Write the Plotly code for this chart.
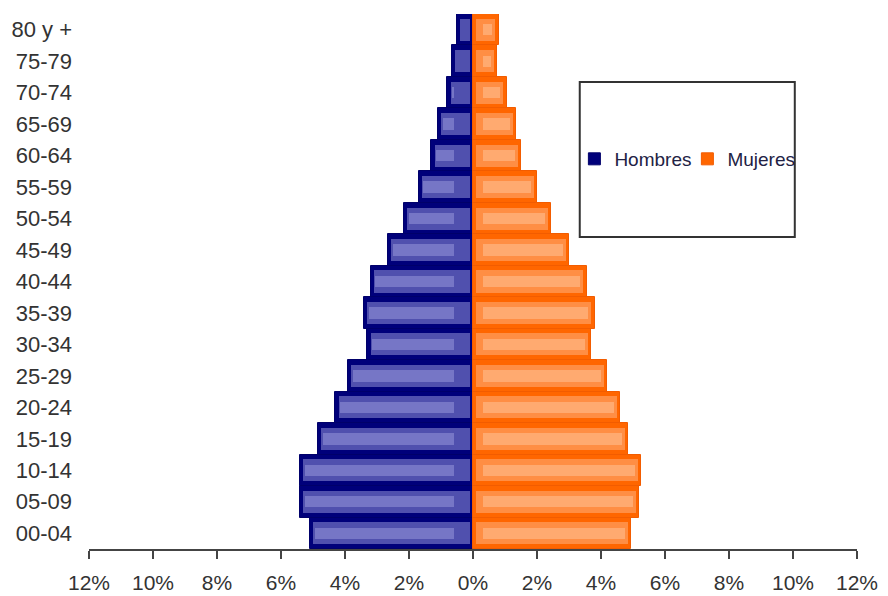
import plotly.graph_objects as go

age_groups = ["00-04", "05-09", "10-14", "15-19", "20-24", "25-29", "30-34", "35-39",
              "40-44", "45-49", "50-54", "55-59", "60-64", "65-69", "70-74", "75-79", "80 y +"]
hombres = [5.1, 5.4, 5.4, 4.85, 4.3, 3.9, 3.3, 3.4, 3.2, 2.65, 2.15, 1.7, 1.3, 1.1, 0.8, 0.65, 0.5]
mujeres = [4.95, 5.2, 5.25, 4.85, 4.6, 4.2, 3.7, 3.8, 3.55, 3.0, 2.45, 2.0, 1.5, 1.35, 1.05, 0.75, 0.8]
tick_values = [-12, -10, -8, -6, -4, -2, 0, 2, 4, 6, 8, 10, 12]
tick_labels = ["12%", "10%", "8%", "6%", "4%", "2%", "0%", "2%", "4%", "6%", "8%", "10%", "12%"]

FONT = "Liberation Sans, Arial, sans-serif"
men_x = [-v for v in hombres]


def shade(values, start, end_inset, sign):
    """Inner shading bar from `start` out to (value - end_inset), as base + length."""
    bases = [sign * start] * len(values)
    lengths = [sign * max(v - end_inset - start, 0) for v in values]
    return bases, lengths


fig = go.Figure()

# base (outline) bars
fig.add_trace(go.Bar(y=age_groups, x=men_x, orientation="h", name="Hombres", width=1.0,
                     marker=dict(color="#00007a", line=dict(color="#00006a", width=1))))
fig.add_trace(go.Bar(y=age_groups, x=mujeres, orientation="h", name="Mujeres", width=1.0,
                     marker=dict(color="#ff6600", line=dict(color="#f25c00", width=1))))

# shading layers (gradient imitation)
b, l = shade(hombres, 0.1, 0.1, -1)
fig.add_trace(go.Bar(y=age_groups, x=l, base=b, orientation="h", width=0.7, showlegend=False,
                     hoverinfo="skip", marker=dict(color="#5050ae", line=dict(width=0))))
b, l = shade(hombres, 0.6, 0.15, -1)
fig.add_trace(go.Bar(y=age_groups, x=l, base=b, orientation="h", width=0.36, showlegend=False,
                     hoverinfo="skip", marker=dict(color="#7676c6", line=dict(width=0))))
b, l = shade(mujeres, 0.08, 0.1, 1)
fig.add_trace(go.Bar(y=age_groups, x=l, base=b, orientation="h", width=0.7, showlegend=False,
                     hoverinfo="skip", marker=dict(color="#ff8e44", line=dict(width=0))))
b, l = shade(mujeres, 0.3, 0.2, 1)
fig.add_trace(go.Bar(y=age_groups, x=l, base=b, orientation="h", width=0.36, showlegend=False,
                     hoverinfo="skip", marker=dict(color="#ffaa70", line=dict(width=0))))

fig.update_layout(
    width=888, height=596,
    margin=dict(l=89, r=31, t=14, b=47),
    paper_bgcolor="white", plot_bgcolor="white",
    barmode="overlay", bargap=0,
    font=dict(family=FONT, color="#333333"),
    xaxis=dict(range=[-12, 12], tickvals=tick_values, ticktext=tick_labels,
               tickfont=dict(size=21, color="#333333", family=FONT), ticklabelstandoff=6,
               showgrid=False, zeroline=False, showline=True, linecolor="#444444", linewidth=2,
               ticks="outside", ticklen=8, tickwidth=2, tickcolor="#444444", fixedrange=True,
               automargin=False),
    yaxis=dict(type="category", categoryorder="array", categoryarray=age_groups,
               range=[-0.5, 16.5], showgrid=False, zeroline=False, showline=False, ticks="",
               tickfont=dict(size=22, color="#333333", family=FONT), ticklabelstandoff=16,
               fixedrange=True, automargin=False),
    legend=dict(orientation="h", x=0.632, y=0.729, xanchor="left", yanchor="middle",
                font=dict(size=19, color="#222244", family=FONT), bgcolor="rgba(0,0,0,0)",
                itemwidth=30, entrywidth=68, entrywidthmode="pixels", traceorder="normal"),
    shapes=[dict(type="rect", xref="paper", yref="paper", x0=0.639, x1=0.919, y0=0.583, y1=0.873,
                 line=dict(color="#333333", width=2), fillcolor="rgba(0,0,0,0)", layer="below")],
)

fig.write_html("out.html")
